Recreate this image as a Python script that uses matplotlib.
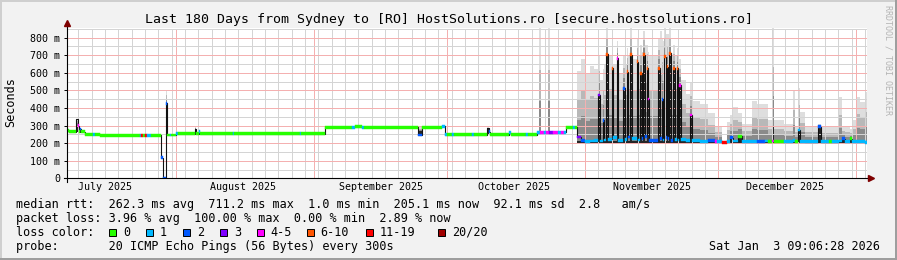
import matplotlib
matplotlib.use("Agg")
import matplotlib.pyplot as plt
import matplotlib.dates as mdates
import matplotlib.ticker as mticker
import matplotlib.transforms as mtransforms
from matplotlib.patches import Rectangle
import numpy as np
from datetime import datetime

# ---------------- data ----------------
start_time = datetime(2025, 7, 7, 9, 6, 28)
span_days = 180
y_max_ms = 855
smoke_floor_ms = 203

# median rtt in the calm period: day offset from start, ms, loss class (-1 = no colour)
left_day = [0.0, 0.5, 2.1, 2.5, 2.8, 3.0, 3.3, 4.1, 6.0, 6.4, 7.5, 16.5, 16.8, 17.2, 17.7, 18.0,
            18.9, 21.2, 21.7, 22.3, 22.6, 23.2, 23.5, 24.6, 25.0, 28.8, 29.2, 29.7, 30.1, 37.4,
            37.7, 52.5, 52.8, 58.1, 64.2, 64.9, 66.5, 66.9, 79.1, 79.9, 84.5, 85.1, 85.6, 86.8,
            87.2, 91.3, 91.7, 94.6, 95.0, 95.3, 99.5, 99.9, 103.4, 103.8, 105.8, 106.5, 107.3,
            107.9, 108.6, 109.4, 110.6, 111.3, 112.0, 112.4, 114.0, 114.4]
left_med = [270, 264, 337, 300, 265, 280, 265, 250, 250, 250, 244, 244, 244, 244, 244, 244,
            244, 117, 1, 427, 246, 246, 246, 254, 254, 283, 254, 265, 254, 254,
            254, 254, 254, 290, 290, 294, 290, 290, 246, 290, 296, 248, 248, 248,
            248, 248, 248, 285, 265, 248, 260, 248, 248, 248, 260, 262, 262,
            262, 260, 262, 262, 262, 262, 290, 290, 290]
left_loss = [0, 0, -1, 4, 0, 2, 0, 0, 1, 0, 0, 1, 6, 0, 6, 1,
             0, 2, 2, 2, 0, 1, 0, 1, 0, -1, 0, 1, 0, 1,
             0, 1, 0, 0, 1, 0, 1, 0, 2, 0, 1, 1, 0, 1,
             0, 1, 0, -1, 2, 0, 1, 0, 1, 0, 1, 4, 1,
             4, 3, 4, 1, 4, 1, 0, 1, 0]

# isolated smoke columns in the calm period
spike_day = [2.1, 22.3, 28.8, 79.1, 94.6, 106.2, 108.2]
spike_width = [0.7, 0.3, 0.4, 0.8, 0.4, 0.5, 0.5]
spike_min = [265, 246, 254, 246, 248, 262, 262]
spike_dark = [300, 427, 283, 270, 285, 262, 262]
spike_max = [340, 502, 292, 292, 290, 855, 855]

# smoky period (late October onwards)
region_day = [
    114.83, 115.73, 116.63, 117.75, 118.65, 119.55, 119.95, 120.68, 121.0, 121.35,
    121.8, 122.64, 123.0, 123.76, 124.15, 125.25, 125.6, 126.01, 126.35, 126.76,
    127.15, 128.26, 128.6, 129.01, 129.35, 129.75, 130.1, 130.51, 130.85, 131.1,
    133.05, 133.4, 133.89, 134.2, 134.40, 134.75, 135.01, 135.3, 135.60, 135.95,
    136.50, 136.85, 137.26, 137.6, 137.85, 138.2, 139.3, 140.26, 140.6, 142.5,
    144.2, 145.88, 146.3, 147.39, 148.51, 149.26, 150.00, 151.13, 151.89, 154.14,
    155.27, 157.13, 157.88, 158.71, 159.16, 161.41, 163.44, 163.89, 164.56, 165.01,
    166.13, 169.06, 169.67, 171.5, 172.3, 173.79, 174.39, 175.14, 176.26, 176.64,
    177.84, 178.51, 179.63]
region_med = [
    235, 215, 210, 212, 215, 474, 212, 331, 218, 705,
    222, 626, 230, 683, 215, 512, 220, 607, 235, 702,
    225, 664, 218, 598, 228, 702, 240, 626, 451, 215,
    626, 225, 450, 218, 692, 232, 635, 225, 711, 215,
    626, 222, 626, 218, 530, 220, 215, 360, 215, 210,
    215, 210, 210, 205, 210, 230, 212, 240, 210, 210,
    210, 212, 210, 212, 210, 210, 215, 210, 275, 210,
    208, 294, 208, 208, 208, 212, 225, 210, 225, 210,
    210, 210, 205]
region_loss = [
    3, 2, 1, 1, 1, 3, 1, 2, 1, 5,
    1, 5, 1, 4, 1, 2, 1, 5, 2, 5,
    1, 5, 1, 5, 2, 5, 2, 5, 4, 2,
    5, 2, 2, 1, 5, 2, 5, 2, 5, 2,
    5, 1, 5, 1, 4, 1, 1, 4, 1, 1,
    2, 4, 1, 6, 1, 2, 1, 0, 1, 1,
    2, 1, 0, 4, 0, 1, 1, 0, 1, 1,
    1, 2, 1, 0, 1, 1, 2, 1, 0, 1,
    1, 1, 1]
region_dark = [
    215, 215, 210, 210, 215, 474, 210, 331, 210, 705,
    215, 626, 215, 683, 210, 512, 215, 607, 215, 702,
    215, 664, 215, 598, 215, 702, 215, 626, 451, 210,
    626, 215, 450, 215, 692, 215, 635, 215, 711, 215,
    626, 215, 626, 215, 530, 215, 210, 360, 210, 210,
    210, 210, 208, 205, 210, 230, 212, 240, 210, 210,
    210, 212, 210, 300, 210, 210, 215, 210, 275, 210,
    208, 294, 208, 208, 208, 212, 225, 210, 225, 210,
    210, 210, 205]
region_max = [
    610, 680, 600, 640, 620, 700, 560, 620, 650, 855,
    700, 760, 650, 780, 600, 700, 650, 740, 700, 855,
    680, 790, 700, 760, 720, 840, 760, 760, 720, 700,
    800, 840, 800, 780, 855, 820, 820, 820, 855, 700,
    760, 700, 740, 700, 680, 560, 480, 540, 440, 420,
    370, 300, 300, 205, 322, 360, 408, 370, 310, 440,
    420, 420, 330, 855, 330, 310, 500, 300, 512, 380,
    300, 310, 290, 290, 290, 460, 300, 300, 280, 330,
    465, 436, 493]

loss_colors = ['#26ff00', '#00b8ff', '#0059ff', '#7e00ff', '#ff00ff', '#ff5500', '#ff0000', '#a10000']
loss_labels = ['0', '1', '2', '3', '4-5', '6-10', '11-19', '20/20']

title = "Last 180 Days from Sydney to [RO] HostSolutions.ro [secure.hostsolutions.ro]"
stat_rtt = "median rtt:  262.3 ms avg  711.2 ms max  1.0 ms min  205.1 ms now  92.1 ms sd  2.8   am/s"
stat_loss = "packet loss: 3.96 % avg  100.00 % max  0.00 % min  2.89 % now"
stat_color = "loss color:"
stat_probe = "probe:       20 ICMP Echo Pings (56 Bytes) every 300s"
stamp = "Sat Jan  3 09:06:28 2026"

# ---------------- drawing ----------------
plt.rcParams['font.family'] = ['DejaVu Sans Mono']
W, H, DPI = 897, 260, 100
fig = plt.figure(figsize=(W / DPI, H / DPI), dpi=DPI, facecolor='#f2f2f2')
PL, PR, PT, PB = 66.7, 866.7, 28.0, 178.3
ax = fig.add_axes([PL / W, 1 - PB / H, (PR - PL) / W, (PB - PT) / H])
ax.set_facecolor('white')

t0 = mdates.date2num(start_time)
t_end = t0 + span_days
ax.set_xlim(t0, t_end)
ax.set_ylim(0, y_max_ms)

shade_cols = ['#dedede', '#b8b8b8', '#8a8a8a', '#262626']
shade_frac = [1.0, 0.6, 0.3, 0.0]

# smoke in the smoky period
rd = t0 + np.array(region_day)
edges = np.append(rd, t_end)
rmax = np.array(region_max, float)
rdark = np.array(region_dark, float)
for frac, col in zip(shade_frac, shade_cols):
    lv = rdark + frac * (rmax - rdark)
    ax.fill_between(edges, smoke_floor_ms, np.append(lv, lv[-1]), step='post',
                    color=col, lw=0, zorder=1)

# isolated smoke columns
smax = np.array(spike_max, float)
sdark = np.array(spike_dark, float)
smin = np.array(spike_min, float)
for frac, col in zip(shade_frac, shade_cols):
    lv = sdark + frac * (smax - sdark)
    ax.bar(t0 + np.array(spike_day), lv - smin, bottom=smin, width=spike_width,
           align='edge', color=col, lw=0, zorder=1)

# median line
days = np.array(left_day + region_day)
med = np.array(left_med + region_med, float)
loss = np.array(left_loss + region_loss)
xs = t0 + days
xe = np.append(xs, t_end)
ax.step(xe, np.append(med, med[-1]), where='post', color='#111111', lw=0.8, zorder=3)

sw = 8
widths = np.diff(xe)
m = loss >= 0
cols = [loss_colors[k] for k in loss[m]]
ax.bar(xs[m], 2 * sw, bottom=med[m] - sw, width=widths[m], align='edge',
       color=cols, edgecolor=cols, lw=0.3, zorder=4)

# grid
ax.yaxis.set_major_locator(mticker.MultipleLocator(100))
ax.yaxis.set_minor_locator(mticker.MultipleLocator(50))
ax.xaxis.set_major_locator(mdates.MonthLocator())
ax.xaxis.set_minor_locator(mdates.DayLocator(interval=3))
ax.set_axisbelow(False)
ax.grid(which='major', color='#f4b0b0', lw=0.72, ls=(0, (1, 1)), antialiased=False)
ax.grid(which='minor', color='#d4d4d4', lw=0.72, ls=(0, (1, 1)), antialiased=False)
ax.yaxis.set_major_formatter(mticker.FuncFormatter(lambda v, p: "0" if v == 0 else f"{v:.0f} m"))
ax.tick_params(axis='x', which='both', length=0, labelbottom=False)
ax.tick_params(axis='y', which='major', length=2.2, width=0.7, pad=2.6, labelsize=7.2)
ax.tick_params(axis='y', which='minor', length=0)
for s in ax.spines.values():
    s.set_visible(False)

# axis lines with arrows
ax.plot([0, 0], [-0.023, 1.03], transform=ax.transAxes, color='black', lw=0.8,
        clip_on=False, zorder=6)
ax.plot([-0.004, 1.002], [0, 0], transform=ax.transAxes, color='black', lw=0.8,
        clip_on=False, zorder=6)
ax.plot([0], [1.03], marker='^', ms=4, color='#7f0000', transform=ax.transAxes,
        clip_on=False, zorder=7)
ax.plot([1.005], [0], marker='>', ms=4, color='#7f0000', transform=ax.transAxes,
        clip_on=False, zorder=7)

# month labels
trans = mtransforms.blended_transform_factory(ax.transData, ax.transAxes)
for mth in range(7, 13):
    ax.text(mdates.date2num(datetime(2025, mth, 16)), -0.06,
            datetime(2025, mth, 1).strftime('%B %Y'), transform=trans,
            ha='center', va='center', fontsize=7.2)

# texts
def fy(py):
    return 1 - py / H

fig.text(0.5, fy(19), title, ha='center', va='center', fontsize=9.5)
fig.text(10.5 / W, fy(102.5), 'Seconds', rotation=90, ha='center', va='center', fontsize=8.5)
fig.text(887.5 / W, fy(60), 'RRDTOOL / TOBI OETIKER', rotation=270, ha='center',
         va='center', fontsize=6, color='#b4b4b4')
fig.text(16 / W, fy(204.7), stat_rtt, ha='left', va='center', fontsize=8.5)
fig.text(16 / W, fy(218.3), stat_loss, ha='left', va='center', fontsize=8.5)
fig.text(16 / W, fy(232), stat_color, ha='left', va='center', fontsize=8.5)
fig.text(16 / W, fy(246.3), stat_probe, ha='left', va='center', fontsize=8.5)
fig.text(880 / W, fy(246.3), stamp, ha='right', va='center', fontsize=8.5)

box_x = [109, 145.7, 182.7, 219.7, 256.7, 306.7, 365.7, 437.7]
for bx, col, lab in zip(box_x, loss_colors, loss_labels):
    fig.add_artist(Rectangle((bx / W, fy(235.5)), 7 / W, 7 / H, transform=fig.transFigure,
                             facecolor=col, edgecolor='black', lw=0.7))
    fig.text((bx + 14) / W, fy(232), lab, ha='left', va='center', fontsize=8.5)

# frame shading
fig.add_artist(Rectangle((0, 1 - 2 / H), 1, 2 / H, transform=fig.transFigure, color='#cfcfcf', lw=0))
fig.add_artist(Rectangle((0, 0), 2 / W, 1, transform=fig.transFigure, color='#cfcfcf', lw=0))
fig.add_artist(Rectangle((0, 0), 1, 2 / H, transform=fig.transFigure, color='#9e9e9e', lw=0))
fig.add_artist(Rectangle((1 - 2 / W, 0), 2 / W, 1, transform=fig.transFigure, color='#9e9e9e', lw=0))

fig.savefig('out.png', dpi=DPI, facecolor=fig.get_facecolor())
